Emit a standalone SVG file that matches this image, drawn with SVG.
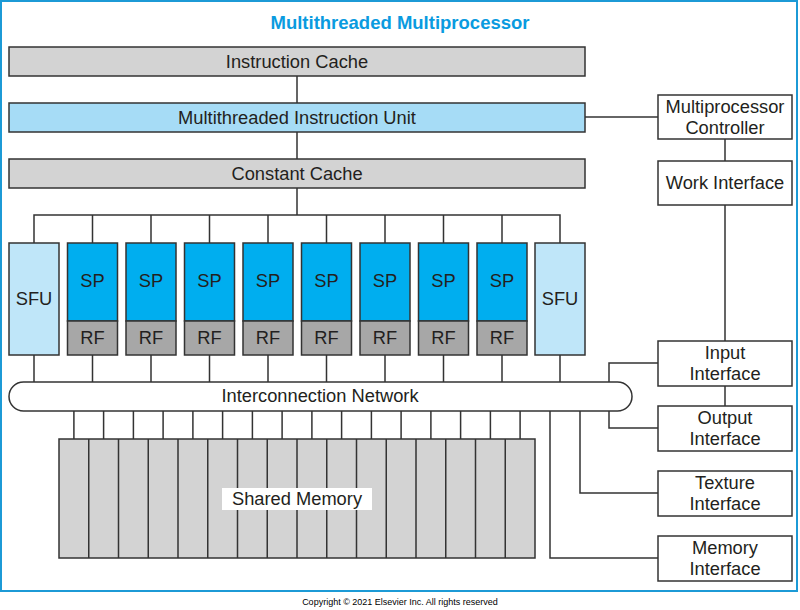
<svg xmlns="http://www.w3.org/2000/svg" width="800" height="610" viewBox="0 0 800 610">
<style>
text{font-family:"Liberation Sans",Arial,sans-serif;font-size:18.3px;fill:#231f20;text-anchor:middle}
.box{stroke:#333;stroke-width:1.5}
.gray{fill:#d3d3d3}
.miu{fill:#a6dcf6}
.sp{fill:#00aeef}
.rf{fill:#a7a7a7}
.sfu{fill:#bfe6f9}
.wht{fill:#fff}
.ln{stroke:#333;stroke-width:1.5;fill:none}
.title{font-weight:bold;fill:#0a9be0;font-size:18.5px}
.copy{font-size:9px;fill:#000}
</style>
<rect x="1" y="1" width="796" height="590" fill="#fff" stroke="#1c9ad6" stroke-width="2"/>
<text class="title" x="400" y="29">Multithreaded Multiprocessor</text>

<g id="connectors">
<path class="ln" d="M297 76V103M297 132V159M297 188V215"/>
<path class="ln" d="M34 243V215H560V243M92.5 215V243M151 215V243M209.5 215V243M268 215V243M326.5 215V243M385 215V243M443.5 215V243M502 215V243"/>
<path class="ln" d="M34 355V382M92.5 355V382M151 355V382M209.5 355V382M268 355V382M326.5 355V382M385 355V382M443.5 355V382M502 355V382M560 355V382"/>
<path class="ln" d="M73.9 411V439M103.6 411V439M133.4 411V439M163.1 411V439M192.9 411V439M222.6 411V439M252.4 411V439M282.1 411V439M311.9 411V439M341.6 411V439M371.4 411V439M401.1 411V439M430.9 411V439M460.6 411V439M490.4 411V439M520.1 411V439"/>
<path class="ln" d="M585 117H658"/>
<path class="ln" d="M725 139V161M725 205V341M725 386V406"/>
<path class="ln" d="M658 363H609V382"/>
<path class="ln" d="M609 411V428H658"/>
<path class="ln" d="M580 411V493H658"/>
<path class="ln" d="M550 411V558H658"/>
</g>

<g id="instruction-cache"><rect class="box gray" x="9" y="47" width="576" height="29"/><text x="297" y="67.5">Instruction Cache</text></g>
<g id="instruction-unit"><rect class="box miu" x="9" y="103" width="576" height="29"/><text x="297" y="123.5">Multithreaded Instruction Unit</text></g>
<g id="constant-cache"><rect class="box gray" x="9" y="159" width="576" height="29"/><text x="297" y="179.5">Constant Cache</text></g>

<g id="sfu-left"><rect class="box sfu" x="9" y="243" width="50" height="112"/><text x="34" y="305">SFU</text></g>
<g id="sp1"><rect class="box sp" x="67.5" y="243" width="50" height="78"/><rect class="box rf" x="67.5" y="321" width="50" height="34"/><text x="92.5" y="287">SP</text><text x="92.5" y="344">RF</text></g>
<g id="sp2"><rect class="box sp" x="126" y="243" width="50" height="78"/><rect class="box rf" x="126" y="321" width="50" height="34"/><text x="151" y="287">SP</text><text x="151" y="344">RF</text></g>
<g id="sp3"><rect class="box sp" x="184.5" y="243" width="50" height="78"/><rect class="box rf" x="184.5" y="321" width="50" height="34"/><text x="209.5" y="287">SP</text><text x="209.5" y="344">RF</text></g>
<g id="sp4"><rect class="box sp" x="243" y="243" width="50" height="78"/><rect class="box rf" x="243" y="321" width="50" height="34"/><text x="268" y="287">SP</text><text x="268" y="344">RF</text></g>
<g id="sp5"><rect class="box sp" x="301.5" y="243" width="50" height="78"/><rect class="box rf" x="301.5" y="321" width="50" height="34"/><text x="326.5" y="287">SP</text><text x="326.5" y="344">RF</text></g>
<g id="sp6"><rect class="box sp" x="360" y="243" width="50" height="78"/><rect class="box rf" x="360" y="321" width="50" height="34"/><text x="385" y="287">SP</text><text x="385" y="344">RF</text></g>
<g id="sp7"><rect class="box sp" x="418.5" y="243" width="50" height="78"/><rect class="box rf" x="418.5" y="321" width="50" height="34"/><text x="443.5" y="287">SP</text><text x="443.5" y="344">RF</text></g>
<g id="sp8"><rect class="box sp" x="477" y="243" width="50" height="78"/><rect class="box rf" x="477" y="321" width="50" height="34"/><text x="502" y="287">SP</text><text x="502" y="344">RF</text></g>
<g id="sfu-right"><rect class="box sfu" x="535" y="243" width="50" height="112"/><text x="560" y="305">SFU</text></g>

<g id="interconnection-network"><rect class="box wht" x="9" y="382" width="623" height="29" rx="14.5" ry="14.5"/><text x="320" y="402">Interconnection Network</text></g>

<g id="shared-memory">
<rect class="box gray" x="59" y="439" width="476" height="119"/>
<path class="ln" d="M88.75 439V558M118.5 439V558M148.25 439V558M178 439V558M207.75 439V558M237.5 439V558M267.25 439V558M297 439V558M326.75 439V558M356.5 439V558M386.25 439V558M416 439V558M445.75 439V558M475.5 439V558M505.25 439V558"/>
<rect x="222" y="488" width="150" height="22" fill="#fff"/>
<text x="297" y="505">Shared Memory</text>
</g>

<g id="mp-controller"><rect class="box wht" x="658" y="95" width="134" height="44"/><text x="725" y="112.5">Multiprocessor</text><text x="725" y="134">Controller</text></g>
<g id="work-interface"><rect class="box wht" x="658" y="161" width="134" height="44"/><text x="725" y="189">Work Interface</text></g>
<g id="input-interface"><rect class="box wht" x="658" y="341" width="134" height="45"/><text x="725" y="358.5">Input</text><text x="725" y="380">Interface</text></g>
<g id="output-interface"><rect class="box wht" x="658" y="406" width="134" height="45"/><text x="725" y="423.5">Output</text><text x="725" y="445">Interface</text></g>
<g id="texture-interface"><rect class="box wht" x="658" y="471" width="134" height="45"/><text x="725" y="488.5">Texture</text><text x="725" y="510">Interface</text></g>
<g id="memory-interface"><rect class="box wht" x="658" y="536" width="134" height="45"/><text x="725" y="553.5">Memory</text><text x="725" y="575">Interface</text></g>

<text class="copy" x="400" y="605">Copyright © 2021 Elsevier Inc. All rights reserved</text>
</svg>
